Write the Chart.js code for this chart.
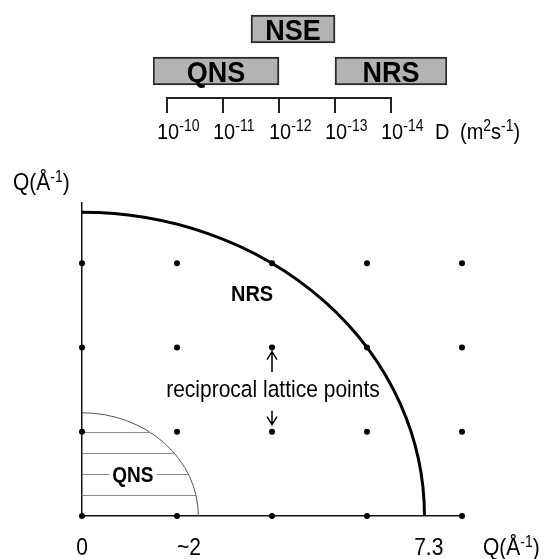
<!DOCTYPE html>
<html>
<head>
<meta charset="utf-8">
<script src="https://cdn.jsdelivr.net/npm/chart.js@4.4.0/dist/chart.umd.min.js"></script>
<style>
  html, body { margin: 0; padding: 0; background: #fff; }
  #wrap { position: relative; width: 546px; height: 559px; }
  canvas { position: absolute; left: 0; top: 0; }
</style>
</head>
<body>
<div id="wrap">
  <canvas id="qChart" width="546" height="559"></canvas>
  <canvas id="dChart" width="546" height="150"></canvas>
</div>
<script>
// Technique ranges on the diffusion scale (exponent n of 10^-n m^2/s)
const boxNames = ["NSE", "QNS", "NRS"];
const boxRows = ["upper", "lower", "lower"];
const boxStart = [11.5, 9.75, 13];
const boxEnd = [13, 12, 15];
const dExponents = [10, 11, 12, 13, 14];

// Reciprocal space picture
const latticeX = [0, 2, 4, 6, 8];
const latticeY = [0, 2, 4, 6];
const nrsRadius = 7.21;
const qnsRadius = 2.45;
const hatchY = [0.5, 1, 1.5, 2];
const qTickValues = [0, 2.25, 7.3];
const qTickLabels = ["0", "~2", "7.3"];

const FONT = "'Liberation Sans', Arial, Helvetica, sans-serif";
const TEXT_SY = 1.12; // text in the picture is a little taller than wide
const fnt = (size, bold) => (bold ? "bold " : "") + size + "px " + FONT;

// text at baseline (x, y), slightly stretched vertically
function drawText(ctx, text, x, y, align) {
  ctx.save();
  ctx.translate(x, y);
  ctx.scale(1, TEXT_SY);
  ctx.textAlign = align || "left";
  ctx.textBaseline = "alphabetic";
  ctx.fillText(text, 0, 0);
  ctx.restore();
}

// draw text with superscript parts: parts = [[text, isSup], ...]
function drawRich(ctx, parts, x, y, base, sup, align) {
  let w = 0;
  parts.forEach(p => { ctx.font = fnt(p[1] ? sup : base); w += ctx.measureText(p[0]).width; });
  let cx = align === "center" ? x - w / 2 : x;
  parts.forEach(p => {
    ctx.font = fnt(p[1] ? sup : base);
    drawText(ctx, p[0], cx, p[1] ? y - 8 : y, "left");
    cx += ctx.measureText(p[0]).width;
  });
}

// ---------- top chart: floating bars ----------
const boxData = boxNames.map((n, i) => ({ x: [boxStart[i], boxEnd[i]], y: boxRows[i] }));

const dPlugin = {
  id: "dDecor",
  afterDatasetsDraw(chart) {
    const ctx = chart.ctx;
    const xs = chart.scales.x;
    const area = chart.chartArea;
    ctx.save();
    ctx.fillStyle = "#000";
    ctx.font = fnt(27, true);
    chart.getDatasetMeta(0).data.forEach((el, i) => {
      const c = el.getCenterPoint();
      drawText(ctx, boxNames[i], c.x, c.y + 11, "center");
    });

    // bracket scale
    const yLine = area.bottom + 6;
    ctx.strokeStyle = "#222";
    ctx.lineWidth = 2;
    ctx.beginPath();
    ctx.moveTo(xs.getPixelForValue(dExponents[0]), yLine);
    ctx.lineTo(xs.getPixelForValue(dExponents[dExponents.length - 1]), yLine);
    dExponents.forEach(e => {
      const px = xs.getPixelForValue(e);
      ctx.moveTo(px, yLine - 1);
      ctx.lineTo(px, yLine + 15);
    });
    ctx.stroke();

    const yText = area.bottom + 47;
    dExponents.forEach(e => {
      const px = xs.getPixelForValue(e);
      drawRich(ctx, [["10", false], ["-" + e, true]], px - 10, yText, 20, 14, "left");
    });
    const xLast = xs.getPixelForValue(dExponents[dExponents.length - 1]);
    drawRich(ctx, [["D", false]], xLast + 44, yText, 20, 14, "left");
    drawRich(ctx, [["(m", false], ["2", true], ["s", false], ["-1", true], [")", false]],
      xLast + 69, yText, 20, 14, "left");
    ctx.restore();
  }
};

new Chart(document.getElementById("dChart"), {
  type: "bar",
  data: {
    labels: ["upper", "lower"],
    datasets: [{
      data: boxData,
      backgroundColor: "#b3b3b3",
      borderColor: "#2a2a2a",
      borderWidth: 2,
      borderSkipped: false,
      barThickness: 28
    }]
  },
  options: {
    indexAxis: "y",
    responsive: false,
    animation: false,
    layout: { padding: { left: 153, right: 99, top: 8, bottom: 58 } },
    scales: {
      x: { type: "linear", min: 9.75, max: 15, display: false },
      y: { type: "category", display: false }
    },
    plugins: { legend: { display: false }, tooltip: { enabled: false } }
  },
  plugins: [dPlugin]
});

// ---------- main chart: reciprocal lattice ----------
const latticePoints = [];
latticeY.forEach(y => latticeX.forEach(x => latticePoints.push({ x: x, y: y })));

function arrow(ctx, x, yFrom, yTo) {
  const dir = yTo < yFrom ? 1 : -1;
  ctx.beginPath();
  ctx.moveTo(x, yFrom);
  ctx.lineTo(x, yTo);
  ctx.moveTo(x - 5, yTo + dir * 8);
  ctx.lineTo(x, yTo);
  ctx.lineTo(x + 5, yTo + dir * 8);
  ctx.stroke();
}

const qPlugin = {
  id: "qDecor",
  beforeDatasetsDraw(chart) {
    const ctx = chart.ctx;
    const xs = chart.scales.x, ys = chart.scales.y;
    const x0 = xs.getPixelForValue(0), y0 = ys.getPixelForValue(0);
    ctx.save();
    // QNS hatching
    ctx.strokeStyle = "#8a8a8a";
    ctx.lineWidth = 1;
    hatchY.forEach(h => {
      const py = Math.round(ys.getPixelForValue(h)) + 0.5;
      const xEnd = Math.sqrt(qnsRadius * qnsRadius - h * h);
      ctx.beginPath();
      ctx.moveTo(x0, py);
      ctx.lineTo(xs.getPixelForValue(xEnd), py);
      ctx.stroke();
    });
    // QNS boundary
    ctx.strokeStyle = "#555";
    ctx.lineWidth = 1;
    ctx.beginPath();
    ctx.ellipse(x0, y0, xs.getPixelForValue(qnsRadius) - x0, y0 - ys.getPixelForValue(qnsRadius),
      0, -Math.PI / 2, 0);
    ctx.stroke();
    // NRS boundary
    ctx.strokeStyle = "#000";
    ctx.lineWidth = 3;
    ctx.beginPath();
    ctx.ellipse(x0, y0, xs.getPixelForValue(nrsRadius) - x0, y0 - ys.getPixelForValue(nrsRadius),
      0, -Math.PI / 2, 0);
    ctx.stroke();
    ctx.restore();
  },
  afterDatasetsDraw(chart) {
    const ctx = chart.ctx;
    const xs = chart.scales.x, ys = chart.scales.y;
    const area = chart.chartArea;
    ctx.save();
    ctx.fillStyle = "#000";

    ctx.font = fnt(20, true);
    drawText(ctx, "NRS", xs.getPixelForValue(3.58), ys.getPixelForValue(5.1), "center");

    // QNS label on white patch
    ctx.font = fnt(19, true);
    const qx = xs.getPixelForValue(1.07), qy = ys.getPixelForValue(0.81);
    const qw = ctx.measureText("QNS").width;
    ctx.fillStyle = "#fff";
    ctx.fillRect(qx - qw / 2 - 3, qy - 17, qw + 6, 19);
    ctx.fillStyle = "#000";
    drawText(ctx, "QNS", qx, qy, "center");

    ctx.font = fnt(21);
    drawText(ctx, "reciprocal lattice points", xs.getPixelForValue(4.02), ys.getPixelForValue(2.82), "center");

    ctx.strokeStyle = "#000";
    ctx.lineWidth = 1.5;
    const ax = xs.getPixelForValue(4);
    arrow(ctx, ax, ys.getPixelForValue(3.42), ys.getPixelForValue(3.9));
    arrow(ctx, ax, ys.getPixelForValue(2.5), ys.getPixelForValue(2.17));

    // axis labels
    ctx.font = fnt(21);
    qTickValues.forEach((v, i) => {
      drawText(ctx, qTickLabels[i], xs.getPixelForValue(v), area.bottom + 39, "center");
    });
    const qTitle = [["Q(Å", false], ["-1", true], [")", false]];
    drawRich(ctx, qTitle, area.right + 21, area.bottom + 39, 21, 14, "left");
    drawRich(ctx, qTitle, 13, area.top - 13, 21, 14, "left");
    ctx.restore();
  }
};

new Chart(document.getElementById("qChart"), {
  type: "scatter",
  data: {
    datasets: [{
      data: latticePoints,
      pointRadius: 3,
      pointBackgroundColor: "#000",
      pointBorderWidth: 0,
      clip: false
    }]
  },
  options: {
    responsive: false,
    animation: false,
    layout: { padding: { left: 82, right: 84, top: 203, bottom: 43 } },
    scales: {
      x: {
        type: "linear", min: 0, max: 8,
        grid: { display: false, drawTicks: false },
        ticks: { display: false },
        border: { color: "#111", width: 1.5 }
      },
      y: {
        type: "linear", min: 0, max: 7.43,
        grid: { display: false, drawTicks: false },
        ticks: { display: false },
        border: { color: "#111", width: 1.5 }
      }
    },
    plugins: { legend: { display: false }, tooltip: { enabled: false } }
  },
  plugins: [qPlugin]
});
</script>
</body>
</html>
